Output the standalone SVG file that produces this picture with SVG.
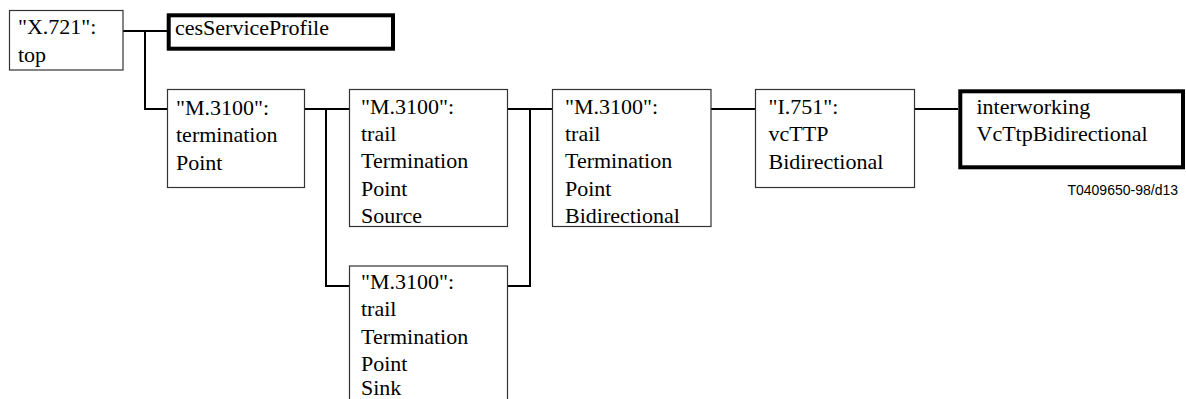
<svg xmlns="http://www.w3.org/2000/svg" width="1186" height="399" viewBox="0 0 1186 399">
<style>
  .box { fill: #fff; stroke: #333; stroke-width: 1.2; }
  .thick { fill: #fff; stroke: #000; stroke-width: 4; }
  .t { font-family: 'Liberation Serif', 'DejaVu Serif', serif; font-size: 22px; fill: #000; }
  .c { fill: none; stroke: #000; stroke-width: 2; }
  .note { font-family: 'Liberation Sans', Arial, sans-serif; font-size: 14px; fill: #000; }
</style>
<rect width="1186" height="399" fill="#fff"/>
<g id="connectors">
  <path class="c" d="M123 31 H167"/>
  <path class="c" d="M145 31 V109 H167.5"/>
  <path class="c" d="M304.5 109 H349.5"/>
  <path class="c" d="M326 109 V286 H349.5"/>
  <path class="c" d="M507.5 109 H552.5"/>
  <path class="c" d="M530 109 V286 H507.5"/>
  <path class="c" d="M711 109 H755.5"/>
  <path class="c" d="M914.5 109 H958"/>
</g>
<g id="x721top">
  <rect class="box" x="9.5" y="10.5" width="113.5" height="59.5"/>
  <text class="t" x="18" y="34">"X.721":</text>
  <text class="t" x="18" y="61.5">top</text>
</g>
<g id="cesServiceProfile">
  <rect class="thick" x="168.7" y="15.3" width="224.3" height="33.4"/>
  <text class="t" x="175" y="34.5">cesServiceProfile</text>
</g>
<g id="terminationPoint">
  <rect class="box" x="167.5" y="89.5" width="137" height="98"/>
  <text class="t" x="176" y="115">"M.3100":</text>
  <text class="t" x="176" y="142.3">termination</text>
  <text class="t" x="176" y="169.5">Point</text>
</g>
<g id="ttpSource">
  <rect class="box" x="349.5" y="89.5" width="158" height="137"/>
  <text class="t" x="361" y="113.5">"M.3100":</text>
  <text class="t" x="361" y="141">trail</text>
  <text class="t" x="361" y="168.3">Termination</text>
  <text class="t" x="361" y="196">Point</text>
  <text class="t" x="361" y="223.3">Source</text>
</g>
<g id="ttpBidirectional">
  <rect class="box" x="552.5" y="89.5" width="158.5" height="137"/>
  <text class="t" x="565" y="113.5">"M.3100":</text>
  <text class="t" x="565" y="141">trail</text>
  <text class="t" x="565" y="168.3">Termination</text>
  <text class="t" x="565" y="196">Point</text>
  <text class="t" x="565" y="223.3">Bidirectional</text>
</g>
<g id="ttpSink">
  <rect class="box" x="349.5" y="266" width="158" height="140"/>
  <text class="t" x="361" y="288.5">"M.3100":</text>
  <text class="t" x="361" y="316">trail</text>
  <text class="t" x="361" y="343.5">Termination</text>
  <text class="t" x="361" y="371">Point</text>
  <text class="t" x="361" y="394.5">Sink</text>
</g>
<g id="vcTTPBidirectional">
  <rect class="box" x="755.5" y="89.5" width="159" height="98"/>
  <text class="t" x="768.5" y="113.5">"I.751":</text>
  <text class="t" x="768.5" y="141">vcTTP</text>
  <text class="t" x="768.5" y="168.5">Bidirectional</text>
</g>
<g id="interworkingVcTtpBidirectional">
  <rect class="thick" x="960.3" y="91.3" width="222.7" height="76"/>
  <text class="t" x="976.5" y="113.5">interworking</text>
  <text class="t" x="976.5" y="141">VcTtpBidirectional</text>
</g>
<text class="note" x="1178" y="195" text-anchor="end">T0409650-98/d13</text>
</svg>
